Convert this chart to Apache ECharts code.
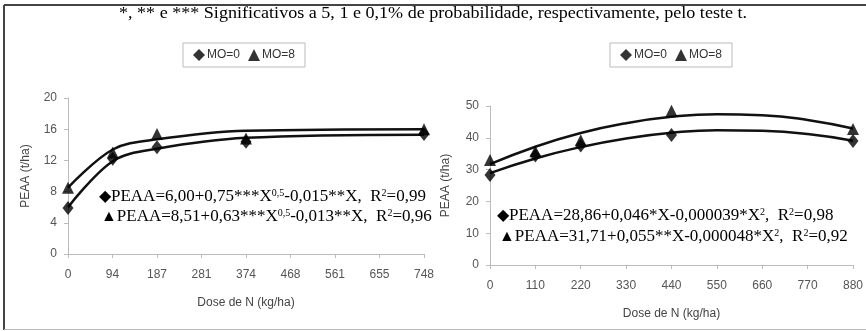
<!DOCTYPE html>
<html><head><meta charset="utf-8">
<script src="https://cdn.jsdelivr.net/npm/echarts@6/dist/echarts.min.js"></script>
<style>html,body{margin:0;padding:0;background:#fff}#c{width:866px;height:331px}</style>
</head><body><div id="c"></div>
<script>
// ---- Left panel (doses 0..748) ----
const leftTickLabels = ['0','94','187','281','374','468','561','655','748'];
const leftDoses = [0, 94, 187, 374, 748];
const leftMO0 = [5.9, 12.2, 13.7, 14.4, 15.4];
const leftMO8 = [8.5, 13.0, 15.4, 14.8, 16.0];
const leftCurveX = [0, 94, 187, 374, 748];
const leftCurveMO0 = [6.0, 11.9, 13.5, 14.9, 15.3];
const leftCurveMO8 = [8.5, 13.4, 14.7, 15.8, 16.0];
// ---- Right panel (doses 0..880) ----
const rightTickLabels = ['0','110','220','330','440','550','660','770','880'];
const rightDoses = [0, 110, 220, 440, 880];
const rightMO0 = [28.3, 34.4, 37.6, 40.9, 39.0];
const rightMO8 = [33.0, 35.8, 39.2, 48.5, 42.8];
const rightCurveX = [0, 110, 220, 330, 440, 550, 660, 770, 880];
const rightCurveMO0 = [28.9, 33.5, 37.1, 39.8, 41.6, 42.4, 42.2, 41.2, 39.1];
const rightCurveMO8 = [31.7, 37.2, 41.5, 44.6, 46.6, 47.4, 47.1, 45.6, 42.9];

const caption = '*, ** e *** Significativos a 5, 1 e 0,1% de probabilidade, respectivamente, pelo teste t.';

const zip = (xs, ys) => xs.map((x, i) => [x, ys[i]]);
const sans = '"Liberation Sans", Arial, sans-serif';
const serif = '"Liberation Serif", "Times New Roman", serif';

function xAxis(gi, max, interval, labels) {
  return {
    type: 'value', gridIndex: gi, min: 0, max: max, interval: interval,
    name: 'Dose de N (kg/ha)', nameLocation: 'middle', nameGap: 43,
    nameTextStyle: {color: '#444', fontSize: 12, fontFamily: sans},
    axisLine: {lineStyle: {color: '#bbb'}}, axisTick: {lineStyle: {color: '#bbb'}, length: 4},
    splitLine: {show: false},
    axisLabel: {color: '#555', fontSize: 12, fontFamily: sans, margin: 15,
      formatter: v => labels[Math.round(v / interval)]}
  };
}
function yAxis(gi, max, interval, gap) {
  return {
    type: 'value', gridIndex: gi, min: 0, max: max, interval: interval,
    name: 'PEAA (t/ha)', nameLocation: 'middle', nameGap: gap,
    nameTextStyle: {color: '#444', fontSize: 12, fontFamily: sans},
    axisLine: {show: true, lineStyle: {color: '#bbb'}}, axisTick: {show: true, lineStyle: {color: '#bbb'}, length: 4},
    splitLine: {show: false},
    axisLabel: {color: '#555', fontSize: 12, fontFamily: sans, margin: 11}
  };
}
function curve(name, gi, xs, ys, sm) {
  return {type: 'line', name: name, xAxisIndex: gi, yAxisIndex: gi, data: zip(xs, ys),
    smooth: sm, showSymbol: false, symbol: 'none', lineStyle: {color: '#111', width: 2.5}, z: 2, silent: true};
}
function pts(name, gi, xs, ys, sym, size, z) {
  return {type: 'scatter', name: name, xAxisIndex: gi, yAxisIndex: gi, data: zip(xs, ys),
    symbol: sym, symbolSize: size, itemStyle: {color: '#000'}, z: z};
}
function legend(left, top) {
  return {left: left, top: top, orient: 'horizontal',
    data: [{name: 'MO=0', icon: 'diamond'}, {name: 'MO=8', icon: 'triangle'}],
    itemWidth: 12, itemHeight: 12, itemGap: 8, padding: [6, 10],
    borderColor: '#bbb', borderWidth: 1,
    textStyle: {color: '#333', fontSize: 12, fontFamily: sans, padding: [0, 0, 0, -3]}};
}
const eqRich = {
  a: {fontFamily: serif, fontSize: 17, color: '#111', lineHeight: 20},
  s: {fontFamily: serif, fontSize: 10, color: '#111', lineHeight: 20, verticalAlign: 'top', padding: [1, 0, 0, 0]},
  m: {fontFamily: sans, fontSize: 16, color: '#000', lineHeight: 20}
};
function eq(x, y, str) {
  return {type: 'text', left: x, top: y, style: {text: str, rich: eqRich}, z: 10};
}

const chart = echarts.init(document.getElementById('c'), null, {renderer: 'canvas'});
chart.setOption({
  animation: false,
  grid: [
    {left: 68, top: 98, width: 356, height: 156},
    {left: 490, top: 106, width: 364, height: 159}
  ],
  xAxis: [xAxis(0, 748, 93.5, leftTickLabels), xAxis(1, 880, 110, rightTickLabels)],
  yAxis: [yAxis(0, 20, 4, 36), yAxis(1, 50, 10, 38)],
  legend: [legend(183, 43), legend(610, 43)],
  series: [
    curve('c0L', 0, leftCurveX, leftCurveMO0, 0.35),
    curve('c8L', 0, leftCurveX, leftCurveMO8, 0.35),
    pts('MO=8', 0, leftDoses, leftMO8, 'triangle', 12, 3),
    pts('MO=0', 0, leftDoses, leftMO0, 'diamond', [11, 14], 4),
    curve('c0R', 1, rightCurveX, rightCurveMO0, true),
    curve('c8R', 1, rightCurveX, rightCurveMO8, true),
    pts('MO=8', 1, rightDoses, rightMO8, 'triangle', 12, 3),
    pts('MO=0', 1, rightDoses, rightMO0, 'diamond', [11, 14], 4)
  ],
  graphic: [
    {type: 'line', shape: {x1: 4, y1: 5, x2: 866, y2: 5}, style: {stroke: '#444', lineWidth: 2}},
    {type: 'line', shape: {x1: 4, y1: 5, x2: 4, y2: 330}, style: {stroke: '#444', lineWidth: 2}},
    {type: 'line', shape: {x1: 4, y1: 329.5, x2: 866, y2: 329.5}, style: {stroke: '#bbb', lineWidth: 1}},
    {type: 'text', x: 433, y: 6, scaleX: 1.13, originX: 0, originY: 0,
      style: {text: caption, fill: '#000', font: '16px ' + serif, textAlign: 'center'}},
    eq(99, 187, '{m|◆}{a|PEAA=6,00+0,75***X}{s|0,5}{a|-0,015**X,  R}{s|2}{a|=0,99}'),
    eq(101, 207, '{m|▲}{a|PEAA=8,51+0,63***X}{s|0,5}{a|-0,013**X,  R}{s|2}{a|=0,96}'),
    eq(497, 206, '{m|◆}{a|PEAA=28,86+0,046*X-0,000039*X}{s|2}{a|,  R}{s|2}{a|=0,98}'),
    eq(499, 227, '{m|▲}{a|PEAA=31,71+0,055**X-0,000048*X}{s|2}{a|,  R}{s|2}{a|=0,92}')
  ]
});
</script></body></html>
